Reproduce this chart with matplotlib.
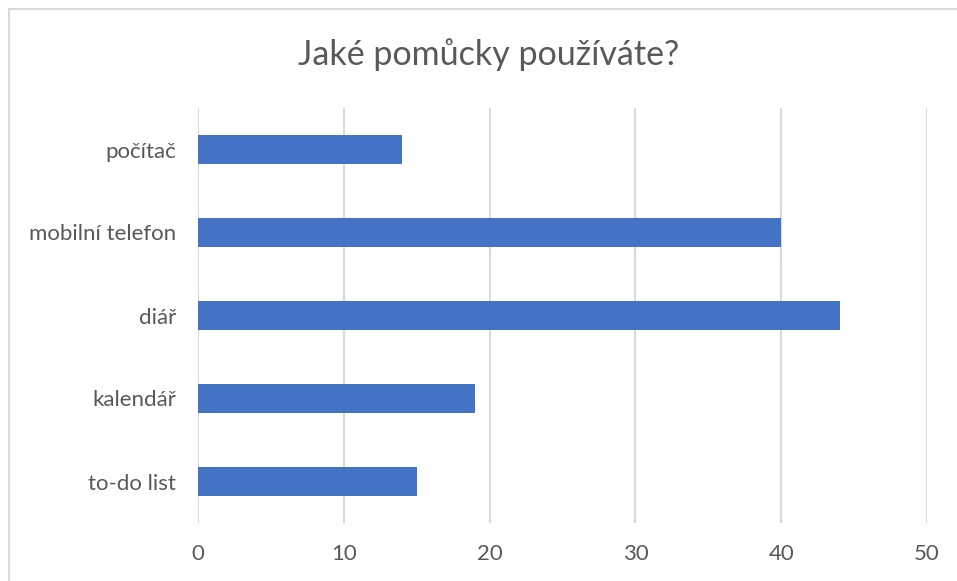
import matplotlib
matplotlib.use("Agg")
import matplotlib.pyplot as plt
from matplotlib.patches import Rectangle

categories = ["počítač", "mobilní telefon", "diář", "kalendář", "to-do list"]
values = [14, 40, 44, 19, 15]
xticks = [0, 10, 20, 30, 40, 50]
title = "Jaké pomůcky používáte?"

W, H = 957, 581
fig = plt.figure(figsize=(W / 100, H / 100), dpi=100)
plt.rcParams["font.family"] = ["Lato", "DejaVu Sans"]
text_color = "#595959"
bar_color = "#4472C4"
grid_color = "#D9D9D9"

# chart frame (extends past the right and bottom edges)
fig.patches.append(Rectangle((9 / W, -0.1), 1.2, 1 - 9 / H + 0.1,
                             transform=fig.transFigure, fill=False,
                             edgecolor=grid_color, linewidth=1.5))

left, right = 198 / W, 927 / W
top, bottom = 1 - 108 / H, 1 - 523 / H
ax = fig.add_axes([left, bottom, right - left, top - bottom])

n = len(categories)
pos = list(range(n))[::-1]
ax.barh(pos, values, height=0.35, color=bar_color, zorder=3)
ax.set_xlim(0, 50)
ax.set_ylim(-0.5, n - 0.5)
ax.set_xticks(xticks)
ax.set_yticks(pos)
ax.set_yticklabels(categories)
ax.grid(axis="x", color=grid_color, linewidth=1.5, zorder=0)
for s in ax.spines.values():
    s.set_visible(False)
ax.tick_params(axis="both", length=0, labelsize=16, colors=text_color)
ax.tick_params(axis="x", pad=15)
ax.tick_params(axis="y", pad=16)

fig.text(489 / W, 1 - 55 / H, title, ha="center", va="center",
         fontsize=24.5, color=text_color)

fig.savefig("out.png", dpi=100, facecolor="white")
